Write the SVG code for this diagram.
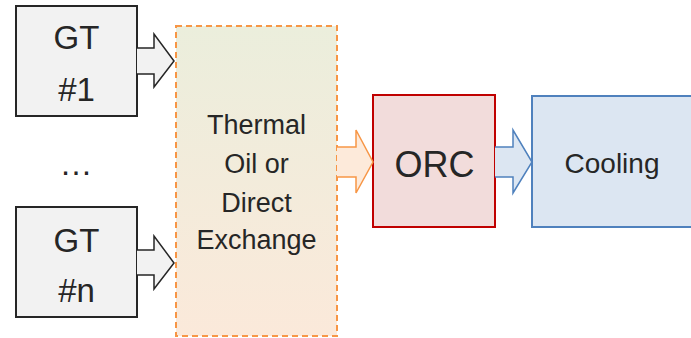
<svg xmlns="http://www.w3.org/2000/svg" width="691" height="338" viewBox="0 0 691 338">
  <defs>
    <linearGradient id="hxFill" x1="0" y1="0" x2="0" y2="1">
      <stop offset="0" stop-color="#EBEEDC"/>
      <stop offset="1" stop-color="#FBE9DA"/>
    </linearGradient>
  </defs>
  <style>
    text { font-family: "Liberation Sans", Arial, sans-serif; fill: #262626; text-anchor: middle; }
    .gt rect { fill: #F2F2F2; stroke: #262626; stroke-width: 2; }
    .gt text { font-size: 33px; }
    .arrow-grey { fill: #F2F2F2; stroke: #262626; stroke-width: 1.5; stroke-linejoin: miter; }
    .arrow-orange { fill: #FDEADA; stroke: #F79646; stroke-width: 1.5; }
    .arrow-blue { fill: #DCE6F2; stroke: #4F81BD; stroke-width: 1.5; }
  </style>

  <!-- gas turbine units -->
  <g id="gt1" class="gt">
    <rect x="16" y="6" width="121" height="110"/>
    <text x="76.5" y="49">GT</text>
    <text x="76.5" y="101">#1</text>
  </g>
  <g id="gtn" class="gt">
    <rect x="16" y="207" width="121" height="110"/>
    <text x="76.5" y="252">GT</text>
    <text x="76.5" y="302">#n</text>
  </g>
  <g id="ellipsis">
    <text x="76" y="175" style="font-size:33px">…</text>
  </g>

  <!-- heat exchange stage -->
  <g id="exchange">
    <rect x="176" y="26" width="161" height="310" fill="url(#hxFill)" stroke="#F79646" stroke-width="2" stroke-dasharray="6,4"/>
    <g style="font-size:27px">
      <text x="256.5" y="134">Thermal</text>
      <text x="256.5" y="173">Oil or</text>
      <text x="256.5" y="212">Direct</text>
      <text x="256.5" y="249">Exchange</text>
    </g>
  </g>

  <!-- organic Rankine cycle -->
  <g id="orc">
    <rect x="373" y="95" width="122" height="132" fill="#F2DCDB" stroke="#C00000" stroke-width="2"/>
    <text x="434.5" y="177" style="font-size:36px">ORC</text>
  </g>

  <!-- heat rejection -->
  <g id="cooling">
    <rect x="532" y="96" width="170" height="131" fill="#DCE6F2" stroke="#4F81BD" stroke-width="2"/>
    <text x="612" y="173" style="font-size:28px">Cooling</text>
  </g>

  <!-- block arrows between stages -->
  <g id="connectors">
    <path class="arrow-grey" d="M137,48 H154 V34 L174,61 L154,87 V74 H137"/>
    <path class="arrow-grey" d="M137,250 H154 V236 L174,263 L154,289 V275 H137"/>
    <path class="arrow-orange" d="M337,147 H356 V130 L373,162 L356,193 V177 H337"/>
    <path class="arrow-blue" d="M495,147 H513 V130 L532,162 L513,193 V177 H495"/>
  </g>
</svg>
